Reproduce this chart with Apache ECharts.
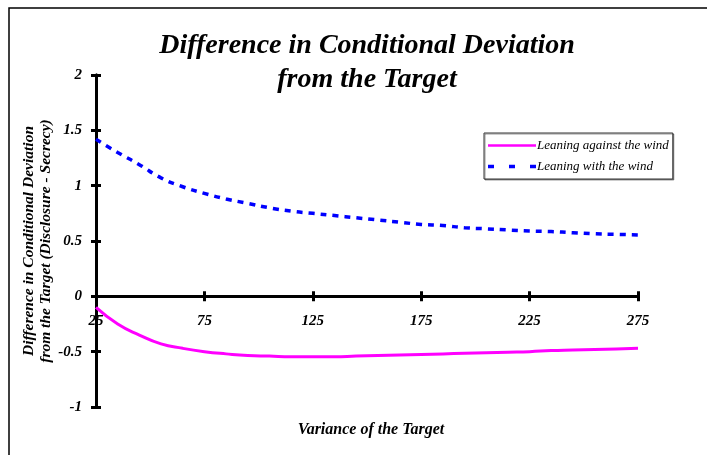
<!DOCTYPE html>
<html>
<head>
<meta charset="utf-8">
<script src="https://cdn.jsdelivr.net/npm/echarts@6/dist/echarts.min.js"></script>
<style>
  html, body { margin: 0; padding: 0; background: #fff; }
  #chart { width: 707px; height: 455px; }
</style>
</head>
<body>
<div id="chart"></div>
<script>
// variance of the target (x)
const variance = [25, 35, 45, 55, 65, 75, 85, 95, 105, 115, 125, 135, 145, 155, 165, 175, 185, 195, 205, 215, 225, 235, 245, 255, 265, 275]
// leaning against the wind
const against = [-0.10, -0.25, -0.35, -0.43, -0.47, -0.50, -0.52, -0.535, -0.54, -0.545, -0.545, -0.545, -0.54, -0.535, -0.53, -0.525, -0.52, -0.515, -0.51, -0.505, -0.50, -0.49, -0.485, -0.48, -0.475, -0.47]
// leaning with the wind
const withWind = [1.42, 1.30, 1.19, 1.07, 0.99, 0.93, 0.88, 0.84, 0.80, 0.77, 0.75, 0.73, 0.71, 0.69, 0.67, 0.65, 0.64, 0.62, 0.61, 0.60, 0.59, 0.585, 0.575, 0.565, 0.56, 0.555]
const xTicks = [25, 75, 125, 175, 225, 275]

const serif = '"Liberation Serif", "DejaVu Serif", serif'

const chart = echarts.init(document.getElementById('chart'))

// x axis sits on y = 0 : grid height 332px for 3 units -> 1 unit above bottom
const zeroOffset = -332 / 3
const black = { color: '#000', width: 3 }

const option = {
  animation: false,
  backgroundColor: '#fff',
  textStyle: { fontFamily: serif },
  title: [
    {
      text: 'Difference in Conditional Deviation\nfrom the Target',
      left: 362, top: 24, textAlign: 'center',
      textStyle: { fontFamily: serif, fontSize: 28, fontWeight: 'bold', fontStyle: 'italic', color: '#000', lineHeight: 34 }
    },
    {
      text: 'Variance of the Target',
      left: 366, top: 417, textAlign: 'center',
      textStyle: { fontFamily: serif, fontSize: 16, fontWeight: 'bold', fontStyle: 'italic', color: '#000' }
    }
  ],
  graphic: [
    { type: 'rect', shape: { x: 9, y: 8, width: 720, height: 470 }, style: { fill: 'none', stroke: '#000', lineWidth: 1.5 }, silent: true }
  ],
  legend: {
    orient: 'vertical',
    left: 484, top: 133,
    itemWidth: 48, itemHeight: 10, itemGap: 8,
    padding: [6, 4, 6, 4],
    backgroundColor: '#fff',
    borderColor: '#333', borderWidth: 1,
    shadowColor: 'rgba(0,0,0,0.4)', shadowOffsetX: 1, shadowOffsetY: 1,
    textStyle: { fontFamily: serif, fontSize: 13, fontStyle: 'italic', color: '#000', padding: [0, 0, 0, -4] },
    data: [
      { name: 'Leaning against the wind', icon: 'path://M0,4 L48,4 L48,6.5 L0,6.5 Z' },
      { name: 'Leaning with the wind', icon: 'path://M0,3.5 L6,3.5 L6,7 L0,7 Z M21,3.5 L27,3.5 L27,7 L21,7 Z M42,3.5 L48,3.5 L48,7 L42,7 Z' }
    ]
  },
  grid: { left: 96, right: 69, top: 75, bottom: 48, containLabel: false },
  xAxis: [
    {
      type: 'value',
      min: 25, max: 275,
      offset: zeroOffset,
      axisLine: { onZero: false, lineStyle: black },
      axisTick: { show: true, length: 5, customValues: xTicks, lineStyle: black },
      axisLabel: {
        customValues: xTicks, margin: 17,
        fontFamily: serif, fontSize: 15, fontWeight: 'bold', fontStyle: 'italic', color: '#000'
      },
      splitLine: { show: false }
    },
    {
      // inner half of the crossing ticks
      type: 'value', position: 'bottom',
      min: 25, max: 275,
      offset: zeroOffset,
      axisLine: { onZero: false, lineStyle: black },
      axisTick: { show: true, inside: true, length: 5, customValues: xTicks, lineStyle: black },
      axisLabel: { show: false },
      splitLine: { show: false }
    }
  ],
  yAxis: [
    {
      type: 'value',
      min: -1, max: 2, interval: 0.5,
      name: 'Difference in Conditional Deviation\nfrom the Target (Disclosure - Secrecy)',
      nameLocation: 'middle', nameRotate: 90, nameGap: 42, nameMoveOverlap: false,
      nameTextStyle: { fontFamily: serif, fontSize: 15.5, fontWeight: 'bold', fontStyle: 'italic', color: '#000', lineHeight: 17 },
      axisLine: { show: true, onZero: false, lineStyle: black },
      axisTick: { show: true, length: 5, lineStyle: black },
      axisLabel: { margin: 14, fontFamily: serif, fontSize: 15, fontWeight: 'bold', fontStyle: 'italic', color: '#000' },
      splitLine: { show: false }
    },
    {
      type: 'value', position: 'left',
      min: -1, max: 2, interval: 0.5,
      axisLine: { show: true, onZero: false, lineStyle: black },
      axisTick: { show: true, inside: true, length: 5, lineStyle: black },
      axisLabel: { show: false },
      splitLine: { show: false }
    }
  ],
  series: [
    {
      name: 'Leaning against the wind',
      type: 'line', smooth: true, symbol: 'none',
      color: '#ff00ff',
      lineStyle: { color: '#ff00ff', width: 3 },
      data: variance.map((v, i) => [v, against[i]])
    },
    {
      name: 'Leaning with the wind',
      type: 'line', smooth: true, symbol: 'none',
      color: '#0000ff',
      lineStyle: { color: '#0000ff', width: 3.5, type: [6, 6] },
      data: variance.map((v, i) => [v, withWind[i]])
    }
  ]
}

chart.setOption(option)
</script>
</body>
</html>
